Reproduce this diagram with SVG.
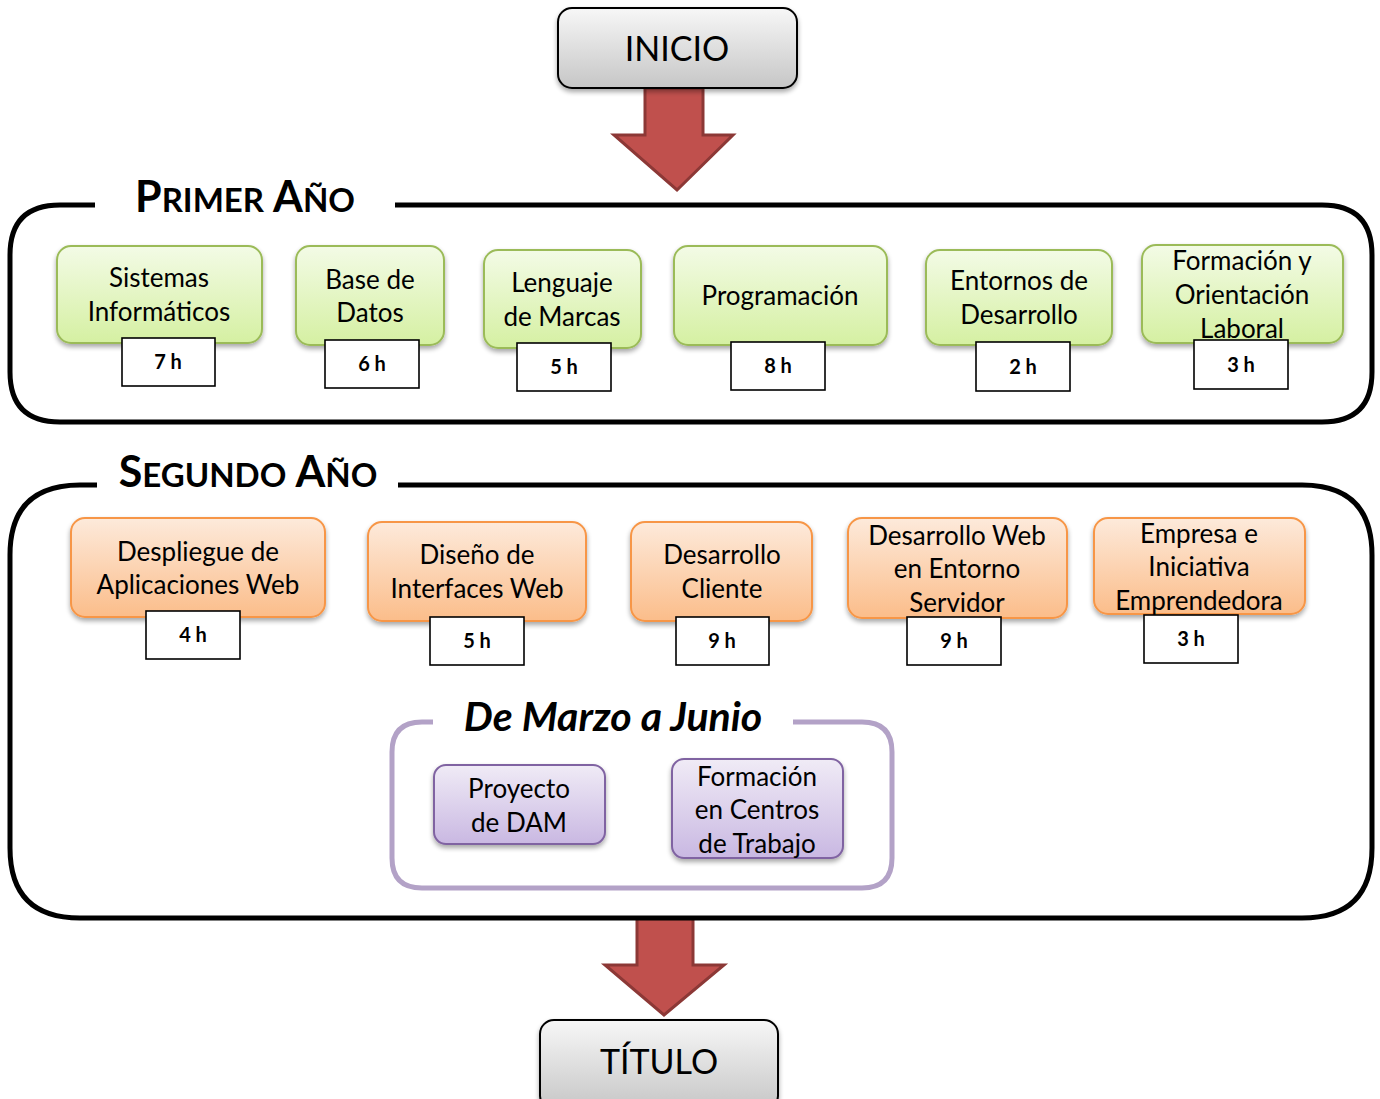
<svg xmlns="http://www.w3.org/2000/svg" width="1380" height="1099" viewBox="0 0 1380 1099">
<style>
  text { font-family: Lato, "Open Sans", "Liberation Sans", sans-serif; fill: #000; text-anchor: middle; }
  .lbl { font-size: 26px; }
  .hrs { font-size: 20px; font-weight: bold; }
  .hbox { fill: #fff; stroke: #000; stroke-width: 1.6; }
  .green { fill: url(#gGreen); stroke: #9bbb59; stroke-width: 2; filter: url(#sh); }
  .orange { fill: url(#gOrange); stroke: #f79646; stroke-width: 2; filter: url(#sh); }
  .purple { fill: url(#gPurple); stroke: #8064a2; stroke-width: 2; filter: url(#sh); }
  .gray { fill: url(#gGray); stroke: #000; stroke-width: 2; filter: url(#sh); }
  .frame { fill: none; stroke: #000; stroke-width: 5; }
  .title { font-size: 43px; font-weight: bold; }
  .sc { font-size: 33px; }
  .arrow { fill: #c0504d; stroke: #8c3836; stroke-width: 3; }
</style>
<defs>
  <linearGradient id="gGreen" x1="0" y1="0" x2="0" y2="1">
    <stop offset="0" stop-color="#f3fbe6"/><stop offset="1" stop-color="#d5f0a2"/>
  </linearGradient>
  <linearGradient id="gOrange" x1="0" y1="0" x2="0" y2="1">
    <stop offset="0" stop-color="#fdeadb"/><stop offset="1" stop-color="#fbbd8a"/>
  </linearGradient>
  <linearGradient id="gPurple" x1="0" y1="0" x2="0" y2="1">
    <stop offset="0" stop-color="#f0ebf6"/><stop offset="1" stop-color="#c9b8e2"/>
  </linearGradient>
  <linearGradient id="gGray" x1="0" y1="0" x2="0" y2="1">
    <stop offset="0" stop-color="#f7f7f7"/><stop offset="1" stop-color="#c6c6c6"/>
  </linearGradient>
  <filter id="sh" x="-10%" y="-10%" width="120%" height="130%">
    <feGaussianBlur in="SourceAlpha" stdDeviation="2.5"/>
    <feOffset dx="0" dy="3" result="b"/>
    <feComponentTransfer><feFuncA type="linear" slope="0.35"/></feComponentTransfer>
    <feMerge><feMergeNode/><feMergeNode in="SourceGraphic"/></feMerge>
  </filter>
</defs>

<g id="connectors">
  <path class="arrow" d="M645,88 L703,88 L703,135 L733,135 L677,190 L614,135 L645,135 Z"/>
  <path class="arrow" d="M637,918 L693,918 L693,965 L724,965 L664,1015 L605,965 L637,965 Z"/>
</g>

<g id="inicio">
  <rect class="gray" x="558" y="8" width="239" height="80" rx="14"/>
  <text x="677" y="61" style="font-size:34px">INICIO</text>
</g>

<g id="primer-anio">
  <path class="frame" d="M95,205 L60,205 Q10,205 10,255 L10,372 Q10,422 60,422 L1322,422 Q1372,422 1372,372 L1372,255 Q1372,205 1322,205 L395,205"/>
  <text class="title" x="245" y="212">P<tspan class="sc">RIMER</tspan> A<tspan class="sc">ÑO</tspan></text>
</g>

<g id="sistemas">
  <rect class="green" x="57" y="246" width="205" height="97" rx="14"/>
  <text class="lbl" x="159" y="287">Sistemas</text>
  <text class="lbl" x="159" y="321">Informáticos</text>
  <rect class="hbox" x="122" y="338" width="93" height="48"/>
  <text class="hrs" x="168" y="369">7 h</text>
</g>
<g id="base-datos">
  <rect class="green" x="296" y="246" width="148" height="99" rx="14"/>
  <text class="lbl" x="370" y="289">Base de</text>
  <text class="lbl" x="370" y="322">Datos</text>
  <rect class="hbox" x="325" y="340" width="94" height="48"/>
  <text class="hrs" x="372" y="371">6 h</text>
</g>
<g id="lenguaje">
  <rect class="green" x="484" y="250" width="157" height="98" rx="14"/>
  <text class="lbl" x="562" y="292">Lenguaje</text>
  <text class="lbl" x="562" y="326">de Marcas</text>
  <rect class="hbox" x="517" y="343" width="94" height="48"/>
  <text class="hrs" x="564" y="374">5 h</text>
</g>
<g id="programacion">
  <rect class="green" x="674" y="246" width="213" height="99" rx="14"/>
  <text class="lbl" x="780" y="305">Programación</text>
  <rect class="hbox" x="731" y="342" width="94" height="48"/>
  <text class="hrs" x="778" y="373">8 h</text>
</g>
<g id="entornos">
  <rect class="green" x="926" y="250" width="186" height="95" rx="14"/>
  <text class="lbl" x="1019" y="290">Entornos de</text>
  <text class="lbl" x="1019" y="324">Desarrollo</text>
  <rect class="hbox" x="976" y="342" width="94" height="49"/>
  <text class="hrs" x="1023" y="374">2 h</text>
</g>
<g id="fol">
  <rect class="green" x="1142" y="245" width="201" height="98" rx="14"/>
  <text class="lbl" x="1242" y="270">Formación y</text>
  <text class="lbl" x="1242" y="304">Orientación</text>
  <text class="lbl" x="1242" y="338">Laboral</text>
  <rect class="hbox" x="1194" y="340" width="94" height="49"/>
  <text class="hrs" x="1241" y="372">3 h</text>
</g>

<g id="segundo-anio">
  <path class="frame" d="M97,485 L80,485 Q10,485 10,555 L10,848 Q10,918 80,918 L1302,918 Q1372,918 1372,848 L1372,555 Q1372,485 1302,485 L398,485"/>
  <text class="title" x="248" y="487">S<tspan class="sc">EGUNDO</tspan> A<tspan class="sc">ÑO</tspan></text>
</g>

<g id="despliegue">
  <rect class="orange" x="71" y="518" width="254" height="99" rx="14"/>
  <text class="lbl" x="198" y="561">Despliegue de</text>
  <text class="lbl" x="198" y="594">Aplicaciones Web</text>
  <rect class="hbox" x="146" y="611" width="94" height="48"/>
  <text class="hrs" x="193" y="642">4 h</text>
</g>
<g id="diseno">
  <rect class="orange" x="368" y="522" width="218" height="99" rx="14"/>
  <text class="lbl" x="477" y="564">Diseño de</text>
  <text class="lbl" x="477" y="598">Interfaces Web</text>
  <rect class="hbox" x="430" y="617" width="94" height="48"/>
  <text class="hrs" x="477" y="648">5 h</text>
</g>
<g id="cliente">
  <rect class="orange" x="631" y="522" width="181" height="99" rx="14"/>
  <text class="lbl" x="722" y="564">Desarrollo</text>
  <text class="lbl" x="722" y="598">Cliente</text>
  <rect class="hbox" x="676" y="617" width="93" height="48"/>
  <text class="hrs" x="722" y="648">9 h</text>
</g>
<g id="servidor">
  <rect class="orange" x="848" y="518" width="219" height="100" rx="14"/>
  <text class="lbl" x="957" y="545">Desarrollo Web</text>
  <text class="lbl" x="957" y="578">en Entorno</text>
  <text class="lbl" x="957" y="612">Servidor</text>
  <rect class="hbox" x="907" y="617" width="94" height="48"/>
  <text class="hrs" x="954" y="648">9 h</text>
</g>
<g id="empresa">
  <rect class="orange" x="1094" y="518" width="211" height="96" rx="14"/>
  <text class="lbl" x="1199" y="543">Empresa e</text>
  <text class="lbl" x="1199" y="576">Iniciativa</text>
  <text class="lbl" x="1199" y="610">Emprendedora</text>
  <rect class="hbox" x="1144" y="615" width="94" height="48"/>
  <text class="hrs" x="1191" y="646">3 h</text>
</g>

<g id="marzo-junio">
  <path d="M433,722 L422,722 Q392,722 392,752 L392,858 Q392,888 422,888 L862,888 Q892,888 892,858 L892,752 Q892,722 862,722 L793,722" fill="none" stroke="#b3a2c7" stroke-width="5"/>
  <text x="613" y="731" style="font-size:41px;font-weight:bold;font-style:italic">De Marzo a Junio</text>
</g>
<g id="proyecto">
  <rect class="purple" x="434" y="765" width="171" height="79" rx="12"/>
  <text class="lbl" x="519" y="798">Proyecto</text>
  <text class="lbl" x="519" y="832">de DAM</text>
</g>
<g id="fct">
  <rect class="purple" x="672" y="759" width="171" height="99" rx="12"/>
  <text class="lbl" x="757" y="786">Formación</text>
  <text class="lbl" x="757" y="819">en Centros</text>
  <text class="lbl" x="757" y="853">de Trabajo</text>
</g>

<g id="titulo">
  <rect class="gray" x="540" y="1020" width="238" height="90" rx="14"/>
  <text x="659" y="1074" style="font-size:34px">TÍTULO</text>
</g>
</svg>
